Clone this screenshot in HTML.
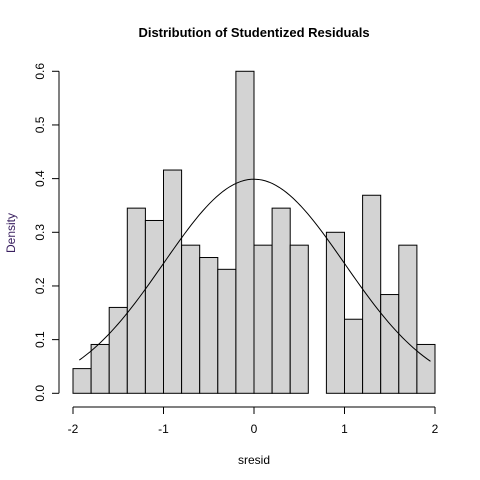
<!DOCTYPE html>
<html><head><meta charset="utf-8"><style>
html,body{margin:0;padding:0;background:#fff;}
svg{display:block;font-family:"Liberation Sans",Arial,sans-serif;}
</style></head><body>
<svg id="chart" width="480" height="480" viewBox="0 0 480 480">
<rect width="480" height="480" fill="#fff"/>
<text x="254" y="37" text-anchor="middle" font-size="13" font-weight="bold">Distribution of Studentized Residuals</text>
<text x="254" y="464" text-anchor="middle" font-size="12">sresid</text>
<text x="0" y="0" transform="translate(15,233) rotate(-90)" text-anchor="middle" font-size="12" fill="#3a2060">Density</text>
<g id="bars"></g><g id="curve"></g><g id="xaxis"></g><g id="yaxis"></g>
</svg>
<script>
const binStarts = [-2,-1.8,-1.6,-1.4,-1.2,-1,-0.8,-0.6,-0.4,-0.2,0,0.2,0.4,0.6,0.8,1,1.2,1.4,1.6,1.8];
const densities = [0.046,0.091,0.160,0.345,0.322,0.416,0.276,0.253,0.231,0.600,0.276,0.345,0.276,0,0.300,0.138,0.369,0.184,0.276,0.091];
const binWidth = [0.2];
const xTicks = [-2,-1,0,1,2];
const yTicks = [0,0.1,0.2,0.3,0.4,0.5,0.6];
const yTickLabels = ["0.0","0.1","0.2","0.3","0.4","0.5","0.6"];
const curveRange = [-1.93,1.95];
const normParams = [0,1];

const NS="http://www.w3.org/2000/svg";
const X = v => 254 + v*90.5;
const Y = v => 393.3 - v*536.7;
function mk(tag, attrs, parent){const e=document.createElementNS(NS,tag);for(const k in attrs)e.setAttribute(k,attrs[k]);parent.appendChild(e);return e;}
const bars=document.getElementById('bars');
binStarts.forEach((b,i)=>{
  if(densities[i]<=0) return;
  const r=mk('rect',{x:X(b),y:Y(densities[i]),width:X(b+binWidth[0])-X(b),height:Y(0)-Y(densities[i]),fill:'#d3d3d3',stroke:'#000','stroke-width':1},bars);
  
  
});
const curve=document.getElementById('curve');
let d='';
for(let i=0;i<=100;i++){
  const x=curveRange[0]+(curveRange[1]-curveRange[0])*i/100;
  const z=(x-normParams[0])/normParams[1];
  const y=Math.exp(-z*z/2)/(Math.sqrt(2*Math.PI)*normParams[1]);
  d+=(i?'L':'M')+X(x).toFixed(2)+','+Y(y).toFixed(2);
}
const p=mk('path',{d:d,fill:'none',stroke:'#000','stroke-width':1},curve);


const xa=document.getElementById('xaxis');
const xl=mk('line',{x1:X(xTicks[0]),x2:X(xTicks[xTicks.length-1]),y1:407,y2:407,stroke:'#000'},xa);


xTicks.forEach(t=>{
  mk('line',{x1:X(t),x2:X(t),y1:407,y2:414,stroke:'#000'},xa);
  const tx=mk('text',{x:X(t),y:433,'text-anchor':'middle','font-size':12},xa);
  tx.textContent=String(t);
  
  
});
const ya=document.getElementById('yaxis');
const yl=mk('line',{x1:59,x2:59,y1:Y(yTicks[0]),y2:Y(yTicks[yTicks.length-1]),stroke:'#000'},ya);


yTicks.forEach((t,i)=>{
  mk('line',{x1:52,x2:59,y1:Y(t),y2:Y(t),stroke:'#000'},ya);
  const tx=mk('text',{x:0,y:0,transform:`translate(44,${Y(t)}) rotate(-90)`,'text-anchor':'middle','font-size':12},ya);
  tx.textContent=yTickLabels[i];
  
  
});
</script>
</body></html>
